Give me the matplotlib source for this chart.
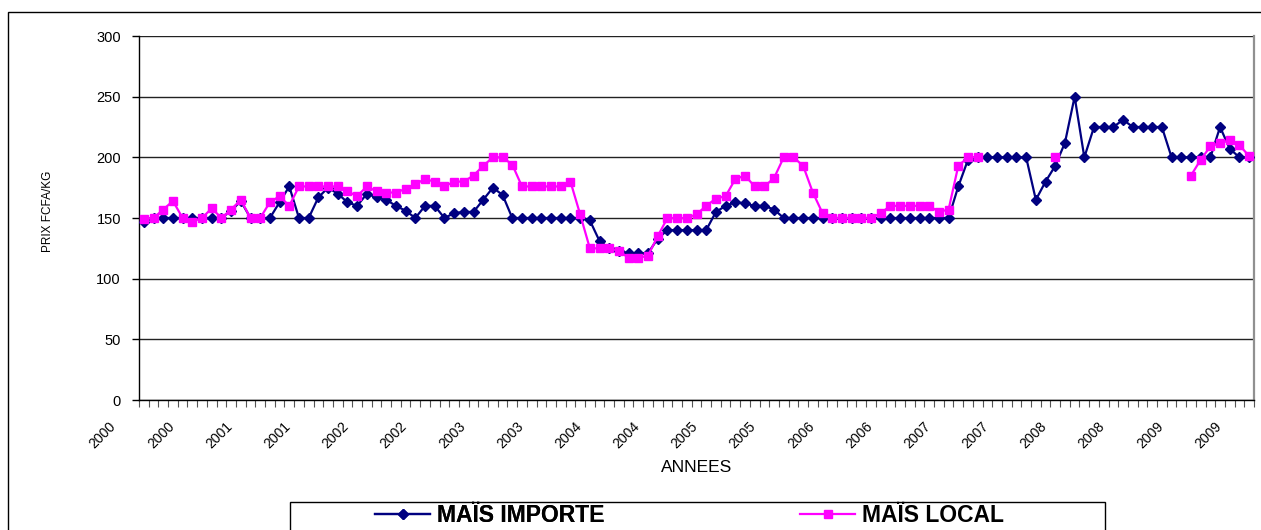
import numpy as np
import matplotlib
matplotlib.use("Agg")
import matplotlib.pyplot as plt
from matplotlib.lines import Line2D
from matplotlib.patches import Rectangle
import matplotlib.transforms as mtransforms

plt.rcParams['font.family'] = ['Liberation Sans', 'DejaVu Sans']

# ---- data (monthly prices, FCFA/kg) ----
mais_importe = [
    147, 150, 150, 150, 150, 150, 150, 150, 150, 156, 164, 150,
    150, 150, 163, 176, 150, 150, 167, 175, 170, 163, 160, 170,
    167, 165, 160, 156, 150, 160, 160, 150, 154, 155, 155, 165,
    175, 169, 150, 150, 150, 150, 150, 150, 150, 150, 148, 131,
    125, 123, 121, 121, 121, 133, 140, 140, 140, 140, 140, 155,
    160, 163, 162, 160, 160, 157, 150, 150, 150, 150, 150, 150,
    150, 150, 150, 150, 150, 150, 150, 150, 150, 150, 150, 150,
    176, 198, 200, 200, 200, 200, 200, 200, 165, 180, 193, 212,
    250, 200, 225, 225, 225, 231, 225, 225, 225, 225, 200, 200,
    200, 200, 200, 225, 207, 200, 200,
]
mais_local = [
    149, 150, 157, 164, 150, 147, 150, 158, 150, 157, 165, 150,
    150, 163, 168, 160, 176, 176, 176, 176, 176, 172, 168, 176,
    172, 171, 171, 174, 178, 182, 180, 176, 180, 180, 185, 193,
    200, 200, 194, 176, 176, 176, 176, 176, 180, 153, 125, 125,
    125, 123, 117, 117, 119, 135, 150, 150, 150, 153, 160, 166,
    168, 182, 185, 176, 176, 183, 200, 200, 193, 171, 154, 150,
    150, 150, 150, 150, 154, 160, 160, 160, 160, 160, 155, 157,
    193, 200, 200, None, None, None, None, None, None, None, 200, None,
    None, None, None, None, None, None, None, None, None, None, None, None,
    185, 198, 209, 212, 214, 210, 201,
]
tick_labels = ["2000", "2000", "2001", "2001", "2002", "2002", "2003", "2003",
               "2004", "2004", "2005", "2005", "2006", "2006", "2007", "2007",
               "2008", "2008", "2009", "2009"]
label_step = 6
series_names = ["MAÏS IMPORTE", "MAÏS LOCAL"]
colors = ["#000080", "#FF00FF"]

W, H = 1261, 530
fig = plt.figure(figsize=(W / 100, H / 100), dpi=100)

# outer chart frame
fig.patches.append(Rectangle((8 / W, -0.1), 1.1, 1 - 12 / H + 0.1,
                             transform=fig.transFigure, fill=False,
                             ec="black", lw=1.0))

ax = fig.add_axes([139 / W, 1 - 400 / H, (1254 - 139) / W, (400 - 36) / H])

n = len(mais_importe)
x = np.arange(n)
imp = np.array(mais_importe, dtype=float)
loc = np.array([np.nan if v is None else v for v in mais_local], dtype=float)

ax.plot(x, imp, color=colors[0], lw=1.6, marker="D", ms=5,
        mfc=colors[0], mec=colors[0], zorder=3, clip_on=False)
ax.plot(x, loc, color=colors[1], lw=1.6, marker="s", ms=6,
        mfc=colors[1], mec=colors[1], zorder=4, clip_on=False)

ax.set_xlim(-0.5, n - 0.5)
ax.set_ylim(0, 300)
ax.set_yticks(np.arange(0, 301, 50))
ax.yaxis.grid(True, color="#222222", lw=1.0)
ax.set_axisbelow(True)

ax.spines["top"].set_visible(False)
ax.spines["right"].set_color("#909090")
ax.spines["right"].set_linewidth(1.6)
ax.spines["left"].set_linewidth(1.0)
ax.spines["bottom"].set_linewidth(1.0)

ax.tick_params(axis="y", direction="out", length=5, width=1, pad=8,
               labelsize=10.5, colors="black")

# category boundaries ticks
ax.set_xticks(np.arange(-0.5, n, 1), minor=True)
ax.tick_params(axis="x", which="minor", direction="out", length=5, width=0.8,
               color="#555555")
ax.set_xticks(np.arange(0, n, label_step))
ax.set_xticklabels(tick_labels, rotation=45, ha="right", va="top", fontsize=10)
ax.tick_params(axis="x", which="major", length=0, pad=14)
offset = mtransforms.ScaledTranslation(-25 / 100, 0, fig.dpi_scale_trans)
for lab in ax.get_xticklabels():
    lab.set_transform(lab.get_transform() + offset)

fig.text(696.5 / W, 1 - 468 / H, "ANNEES", ha="center", va="center",
         fontsize=12.5)
fig.text(48 / W, 1 - 211 / H, "PRIX FCFA/KG", rotation=90, ha="center",
         va="center", fontsize=8.5)

# legend box
fig.patches.append(Rectangle((290 / W, -0.1), (1105 - 290) / W,
                             0.1 + 1 - 502 / H, transform=fig.transFigure,
                             fill=False, ec="black", lw=1.0))
fs = 16.5
fs_px = fs * 100 / 72
h1 = Line2D([], [], color=colors[0], lw=1.6, marker="D", ms=5)
h2 = Line2D([], [], color=colors[1], lw=1.6, marker="s", ms=6)
leg1 = fig.legend([h1], [series_names[0]], loc="center left",
                  bbox_to_anchor=(375 / W, 1 - 516 / H), frameon=False,
                  borderpad=0, borderaxespad=0, handlelength=55 / fs_px,
                  handletextpad=7 / fs_px, prop={"weight": "bold", "size": fs})
leg2 = fig.legend([h2], [series_names[1]], loc="center left",
                  bbox_to_anchor=(800 / W, 1 - 516 / H), frameon=False,
                  borderpad=0, borderaxespad=0, handlelength=55 / fs_px,
                  handletextpad=7 / fs_px, prop={"weight": "bold", "size": fs})
fig.add_artist(leg1)

fig.savefig("out.png", dpi=100)
